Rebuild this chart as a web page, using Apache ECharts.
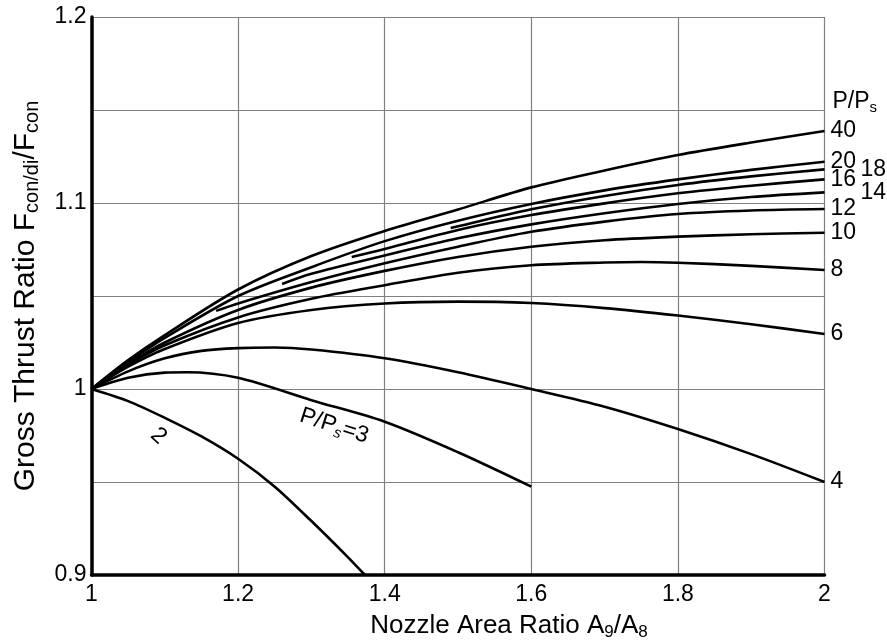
<!DOCTYPE html>
<html>
<head>
<meta charset="utf-8">
<script src="https://cdn.jsdelivr.net/npm/echarts@6/dist/echarts.min.js"></script>
<style>
  html, body { margin: 0; padding: 0; background: #fff; }
  #chart { width: 887px; height: 642px; }
</style>
</head>
<body>
<div id="chart"></div>
<script>
// Gross thrust ratio of a con-di nozzle vs. area ratio, one curve per pressure ratio P/Ps
const xTicks = [1, 1.2, 1.4, 1.6, 1.8, 2];
const yTickLabels = [0.9, 1, 1.1, 1.2];

const pr40 = [[1,1],[1.05,1.0155],[1.1,1.029],[1.2,1.0535],[1.3,1.0715],[1.4,1.085],[1.5,1.0965],[1.6,1.1084],[1.7,1.1175],[1.8,1.1258],[1.9,1.1325],[2,1.1387]];
const pr20 = [[1,1],[1.05,1.0145],[1.1,1.0275],[1.2,1.0500],[1.3,1.0655],[1.4,1.0795],[1.5,1.0905],[1.6,1.0995],[1.7,1.1068],[1.8,1.1127],[1.9,1.1178],[2,1.1222]];
const pr18 = [[1.49,1.0865],[1.5,1.0875],[1.6,1.0966],[1.7,1.1038],[1.8,1.1097],[1.9,1.1143],[2,1.1181]];
const pr16 = [[1.355,1.071],[1.4,1.0753],[1.5,1.0855],[1.6,1.0935],[1.7,1.0998],[1.8,1.1052],[1.9,1.1093],[2,1.1127]];
const pr14 = [[1.26,1.0565],[1.3,1.062],[1.4,1.0718],[1.5,1.081],[1.6,1.0885],[1.7,1.0945],[1.8,1.0995],[1.9,1.1032],[2,1.1057]];
const pr12 = [[1.17,1.042],[1.2,1.046],[1.3,1.0575],[1.4,1.0676],[1.5,1.0765],[1.6,1.0845],[1.7,1.09],[1.8,1.0941],[1.9,1.096],[2,1.0968]];
const pr10 = [[1,1],[1.05,1.0135],[1.1,1.025],[1.2,1.0425],[1.3,1.0545],[1.4,1.0635],[1.5,1.071],[1.6,1.0765],[1.7,1.08],[1.8,1.0819],[1.9,1.0832],[2,1.084]];
const pr8  = [[1,1],[1.05,1.013],[1.1,1.0235],[1.2,1.0385],[1.3,1.0485],[1.4,1.0558],[1.5,1.0625],[1.6,1.0665],[1.7,1.068],[1.75,1.0683],[1.8,1.0679],[1.9,1.0662],[2,1.064]];
const pr6  = [[1,1],[1.05,1.012],[1.1,1.0215],[1.2,1.0355],[1.3,1.0425],[1.4,1.046],[1.5,1.047],[1.6,1.0462],[1.7,1.0435],[1.8,1.0395],[1.9,1.0348],[2,1.0296]];
const pr4  = [[1,1],[1.05,1.0095],[1.1,1.0165],[1.15,1.0205],[1.2,1.022],[1.25,1.0223],[1.3,1.0212],[1.4,1.0165],[1.5,1.009],[1.6,1.0],[1.7,0.9905],[1.8,0.9785],[1.9,0.965],[2,0.95]];
const pr3  = [[1,1],[1.05,1.006],[1.1,1.0088],[1.13,1.009],[1.2,1.006],[1.3,0.994],[1.4,0.9824],[1.5,0.966],[1.6,0.9475]];
const pr2  = [[1,1],[1.05,0.9935],[1.1,0.9845],[1.15,0.9745],[1.2,0.9625],[1.25,0.9475],[1.3,0.929],[1.35,0.9095],[1.373,0.9]];

const curveNames = ['40','20','18','16','14','12','10','8','6','4','3','2'];
const curveData  = [pr40, pr20, pr18, pr16, pr14, pr12, pr10, pr8, pr6, pr4, pr3, pr2];
// pressure ratios whose end label is pushed into a second column
const secondColumn = ['18', '14'];
// in-plot annotations: anchor in data coords
const headerAnchor = [2, 1.15];
const label3Anchor = [1.331, 0.9801];
const label2Anchor = [1.0914, 0.9747];

const FONT = 'Liberation Sans, Arial, sans-serif';
const FS = 23;
const mainStyle = { fontSize: FS, fontFamily: FONT, color: '#000', lineHeight: 27 };
const subStyle = { fontSize: 15, fontFamily: FONT, color: '#000', verticalAlign: 'bottom', lineHeight: 21 };

const series = curveNames.map((name, i) => {
  const s = {
    name: name,
    type: 'line',
    data: curveData[i],
    smooth: 0.3,
    showSymbol: false,
    symbol: 'none',
    silent: true,
    lineStyle: { color: '#000', width: 2.6 },
    z: 5
  };
  if (i < 10) {
    s.endLabel = {
      show: true,
      formatter: name,
      color: '#000',
      fontSize: FS,
      fontFamily: FONT,
      distance: 6,
      offset: secondColumn.includes(name) ? [30, 0] : [0, 0]
    };
  }
  return s;
});

// header "P/Ps" above the end-label column
series[0].markPoint = {
  silent: true,
  symbol: 'circle',
  symbolSize: 0,
  data: [{
    coord: headerAnchor,
    label: {
      show: true, position: 'right', distance: 8, offset: [0, -8],
      formatter: '{m|P/P}{s|s}', rich: { m: mainStyle, s: subStyle }
    }
  }]
};
// "P/Ps=3" written along its curve
series[10].markPoint = {
  silent: true,
  symbol: 'circle',
  symbolSize: 0,
  data: [{
    coord: label3Anchor,
    label: {
      show: true, position: 'inside', rotate: -18,
      formatter: '{m|P/P}{i|s}{m|=3}',
      rich: {
        m: mainStyle,
        i: Object.assign({}, subStyle, { fontStyle: 'italic' })
      }
    }
  }]
};
// "2" beside its curve
series[11].markPoint = {
  silent: true,
  symbol: 'circle',
  symbolSize: 0,
  data: [{
    coord: label2Anchor,
    label: {
      show: true, position: 'inside', rotate: -42,
      formatter: '2', color: '#000', fontSize: FS, fontFamily: FONT
    }
  }]
};

const chart = echarts.init(document.getElementById('chart'), null, { renderer: 'canvas' });
chart.setOption({
  animation: false,
  backgroundColor: '#fff',
  grid: { left: 91.5, right: 62.5, top: 17, bottom: 67, containLabel: false, outerBoundsMode: 'none' },
  xAxis: {
    type: 'value',
    min: 1, max: 2, interval: 0.2,
    name: 'Nozzle Area Ratio A{s|9}/A{s|8}',
    nameLocation: 'middle',
    nameGap: 31,
    nameTextStyle: {
      fontSize: 26, fontFamily: FONT, color: '#000', lineHeight: 30,
      padding: [0, 0, 0, 102],
      rich: { s: { fontSize: 17, fontFamily: FONT, color: '#000', verticalAlign: 'bottom', lineHeight: 23 } }
    },
    axisLine: { show: true, onZero: false, lineStyle: { color: '#000', width: 3.5 } },
    axisTick: { show: false },
    splitLine: { show: true, lineStyle: { color: '#808080', width: 1.2 } },
    axisLabel: {
      color: '#000', fontSize: FS, fontFamily: FONT, margin: 8,
      formatter: v => (xTicks.some(t => Math.abs(t - v) < 1e-6) ? String(+v.toFixed(2)) : '')
    }
  },
  yAxis: {
    type: 'value',
    min: 0.9, max: 1.2, interval: 0.05,
    name: 'Gross Thrust Ratio F{s|con/di}/F{s|con}',
    nameLocation: 'middle',
    nameGap: 49,
    nameTextStyle: {
      fontSize: 30, fontFamily: FONT, color: '#000', lineHeight: 34,
      rich: { s: { fontSize: 20, fontFamily: FONT, color: '#000', verticalAlign: 'bottom', lineHeight: 27 } }
    },
    axisLine: { show: true, onZero: false, lineStyle: { color: '#000', width: 3.5 } },
    axisTick: { show: false },
    splitLine: { show: true, lineStyle: { color: '#808080', width: 1.2 } },
    axisLabel: {
      color: '#000', fontSize: FS, fontFamily: FONT, margin: 5,
      formatter: v => (yTickLabels.some(t => Math.abs(t - v) < 1e-6) ? String(+v.toFixed(2)) : '')
    }
  },
  series: series
});
</script>
</body>
</html>
